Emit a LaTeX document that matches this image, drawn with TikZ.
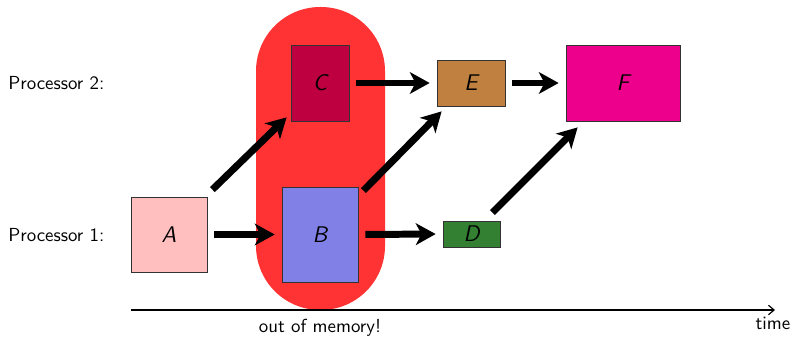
\documentclass[tikz,border=0pt]{standalone}
\usepackage{fontspec}
\usetikzlibrary{arrows.meta}
\definecolor{cA}{HTML}{FFBFBF}
\definecolor{cB}{HTML}{8080E6}
\definecolor{cC}{HTML}{BF0040}
\definecolor{cD}{HTML}{338033}
\definecolor{cE}{HTML}{BF8040}
\definecolor{cF}{HTML}{EC008C}
\definecolor{cMem}{HTML}{FF3333}
\begin{document}
\begin{tikzpicture}[x=0.53pt,y=-0.53pt,
  task/.style={draw=black!80,line width=0.4pt,inner sep=0pt,font=\sffamily\itshape\large},
  dep/.style={line width=3.7pt,-{Stealth[length=10.5pt,width=11.5pt,inset=3pt]}},
  hdep/.style={dep,shorten <=3.7pt,shorten >=3.7pt},
  lbl/.style={font=\sffamily,inner sep=0pt}]
\useasboundingbox (0,0) rectangle (791,337);
% memory region
\fill[cMem,rounded corners=34pt] (256,7) rectangle (385,310);
% tasks
\node[task,fill=cA,minimum width=76*0.53pt,minimum height=75*0.53pt] (A) at (169,234.5) {A};
\node[task,fill=cB,minimum width=76*0.53pt,minimum height=95*0.53pt] (B) at (320,234.5) {B};
\node[task,fill=cC,minimum width=58*0.53pt,minimum height=76*0.53pt] (C) at (320,83) {C};
\node[task,fill=cE,minimum width=68*0.53pt,minimum height=46*0.53pt] (E) at (471,83) {E};
\node[task,fill=cD,minimum width=57*0.53pt,minimum height=26*0.53pt] (D) at (471.5,234) {D};
\node[task,fill=cF,minimum width=114*0.53pt,minimum height=76*0.53pt] (F) at (623,83) {F};
% labels
\node[lbl,anchor=west] (p2) at (8,83) {Processor 2:};
\node[lbl,anchor=west] (p1) at (8,235) {Processor 1:};
% dependencies
\draw[hdep] (A.east) -- (B.west);
\draw[hdep] (B.east) -- (D.west);
\draw[hdep] (C.east) -- (E.west);
\draw[hdep] (E.east) -- (F.west);
\draw[dep] ([shift={(5,-7)}]A.north east) -- ([shift={(-4,-4)}]C.south west);
\draw[dep] ([shift={(5,4)}]B.north east) -- ([shift={(5,5)}]E.south west);
\draw[dep] ([shift={(-8,-8)}]D.north east) -- ([shift={(12,6)}]F.south west);
% time axis
\coordinate (t0) at (131,310);
\coordinate (t1) at (775,310);
\draw[line width=0.6pt,-{Straight Barb[length=3pt,width=5pt]}] (t0) -- (t1);
\node[lbl] (time) at (773,323) {time};
\node[lbl] (oom) at (320,328) {out of memory!};
\end{tikzpicture}
\end{document}
